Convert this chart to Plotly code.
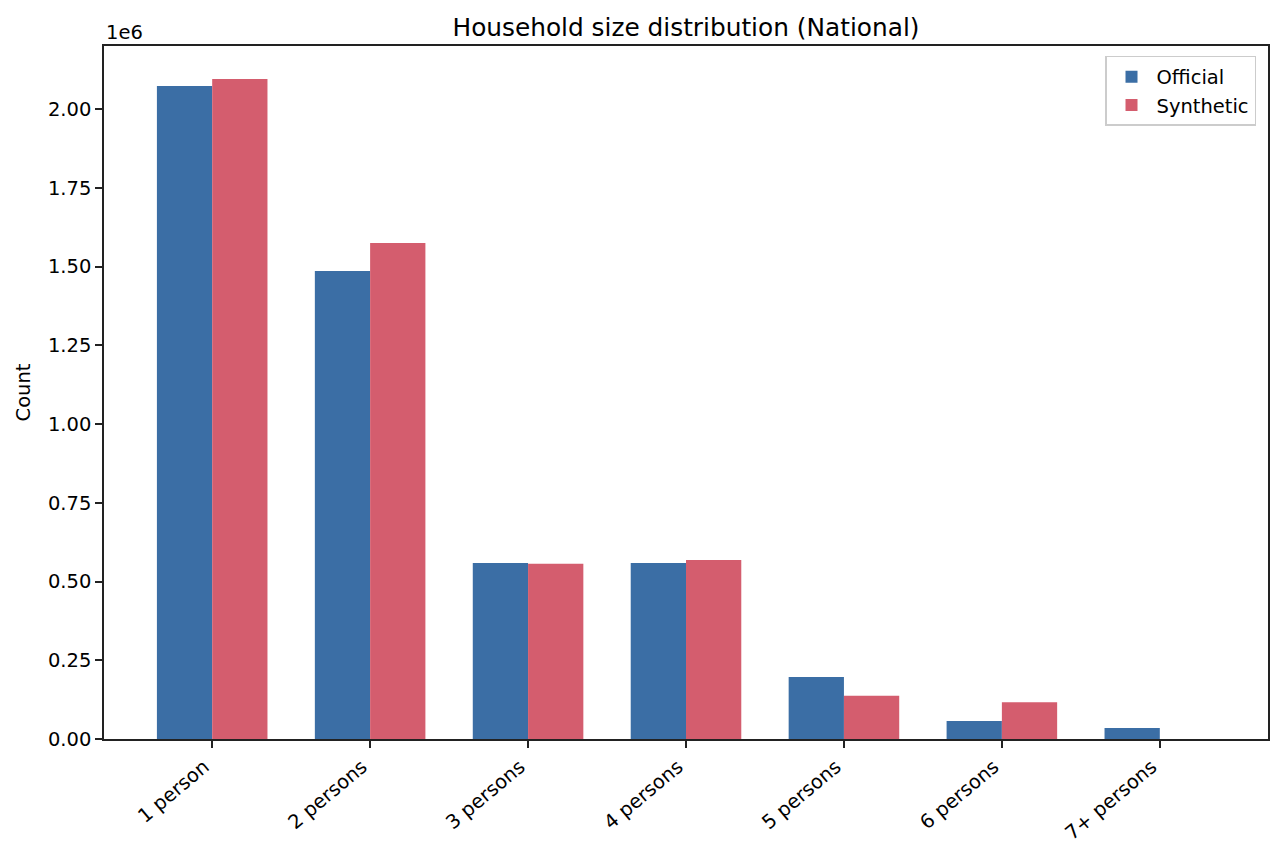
import plotly.graph_objects as go

categories = ["1 person", "2 persons", "3 persons", "4 persons", "5 persons", "6 persons", "7+ persons"]
official = [2073000, 1486000, 559000, 559000, 197000, 57000, 35000]
synthetic = [2095000, 1575000, 556000, 568000, 137000, 117000, 0]
ytick_vals = [0, 250000, 500000, 750000, 1000000, 1250000, 1500000, 1750000, 2000000]
ytick_text = ["0.00", "0.25", "0.50", "0.75", "1.00", "1.25", "1.50", "1.75", "2.00"]

BLUE = "#3b6ea5"
RED = "#d45d6e"
FONT = "DejaVu Sans"
FS = 19.5

fig = go.Figure()
fig.add_trace(go.Bar(x=categories, y=official, name="Official", marker_color=BLUE, marker_line_width=0))
fig.add_trace(go.Bar(x=categories, y=synthetic, name="Synthetic", marker_color=RED, marker_line_width=0))

# page body has an 8px margin; figure sized/offset to compensate
fig.update_layout(
    width=1273, height=853,
    margin=dict(l=96, r=13, t=38, b=122, autoexpand=False),
    paper_bgcolor="white", plot_bgcolor="white",
    barmode="group", bargap=0.3, bargroupgap=0,
    font=dict(family=FONT, size=FS, color="black"),
    title=dict(text="Household size distribution (National)", x=(686 - 8) / 1273, xanchor="center",
               y=1 - 19 / 853, yanchor="middle", font=dict(size=24.8)),
    showlegend=True,
    legend=dict(x=0.9897, y=0.9856, xanchor="right", yanchor="top",
                bgcolor="rgba(255,255,255,0.8)", bordercolor="#cccccc", borderwidth=1.5,
                font=dict(size=FS), tracegroupgap=4, itemwidth=40),
)
fig.update_xaxes(
    range=[-0.685, 6.685], showline=True, linecolor="#222222", linewidth=1.6, mirror=True,
    ticks="outside", ticklen=7, tickwidth=1.6, tickcolor="#222222", tickangle=-40,
    showgrid=False, tickfont=dict(size=FS), ticklabelshift=-8,
)
fig.update_yaxes(
    range=[0, 2200000], showline=True, linecolor="#222222", linewidth=1.6, mirror=True,
    ticks="outside", ticklen=7, tickwidth=1.6, tickcolor="#222222",
    tickvals=ytick_vals, ticktext=ytick_text, showgrid=False, zeroline=False,
    tickfont=dict(size=FS),
    title=dict(text="Count", font=dict(size=FS), standoff=12),
)
fig.add_annotation(text="1e6", xref="paper", yref="paper", x=0, y=1, xanchor="left", yanchor="bottom",
                   showarrow=False, font=dict(size=FS), yshift=0)

fig.write_html("out.html")
